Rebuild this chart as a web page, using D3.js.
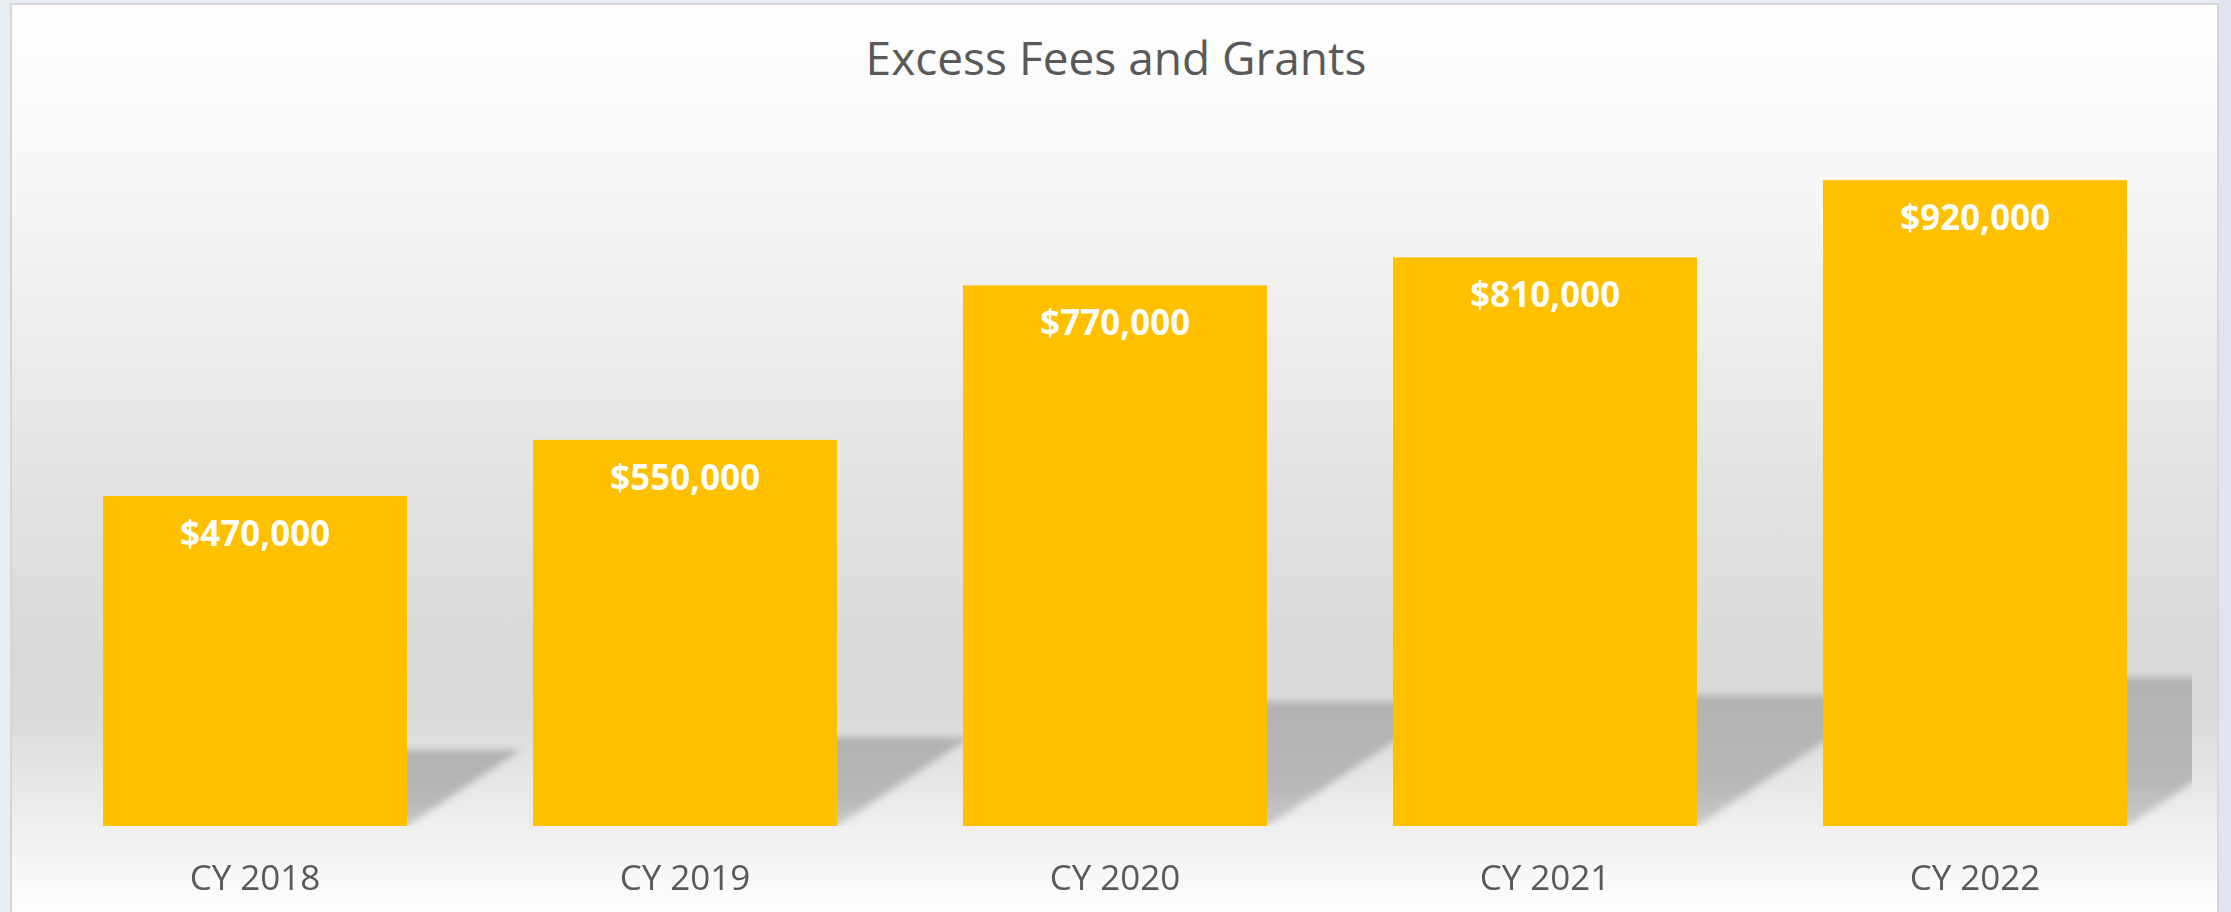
<!DOCTYPE html>
<html>
<head>
<meta charset="utf-8">
<script src="https://cdn.jsdelivr.net/npm/d3@7"></script>
<style>
  html, body { margin: 0; padding: 0; background: #e8ecf3; }
  svg { display: block; }
  .chart-title { font-family: "Open Sans", sans-serif; font-size: 46px; fill: #595959; }
  .bar-label { font-family: "Open Sans", sans-serif; font-size: 35px; font-weight: bold; fill: #ffffff; }
  .cat-label { font-family: "Open Sans", sans-serif; font-size: 35px; fill: #595959; }
</style>
</head>
<body>
<svg id="chart"></svg>
<script>
/*
BAR CHART: EXCESS FEES AND GRANTS
*/

const title = "Excess Fees and Grants";
const categories = ["CY 2018", "CY 2019", "CY 2020", "CY 2021", "CY 2022"];
const values = [470000, 550000, 770000, 810000, 920000];
const yDomain = [0, 1000000];

const width = 2231;
const height = 912;
const barColor = "#ffc000";

const svg = d3.select("#chart").attr("width", width).attr("height", height);
const defs = svg.append("defs");

// background gradient of the chart panel
const bg = defs
  .append("linearGradient")
  .attr("id", "panel-bg")
  .attr("gradientUnits", "userSpaceOnUse")
  .attr("x1", 0).attr("y1", 4)
  .attr("x2", 0).attr("y2", 912);
[
  [0, "#ffffff"],
  [0.19, "#f7f7f7"],
  [0.38, "#ececec"],
  [0.57, "#e0e0e0"],
  [0.72, "#d9d9d9"],
  [0.79, "#dbdbdb"],
  [0.905, "#efefef"],
  [1, "#fefefe"],
].forEach(([o, c]) => bg.append("stop").attr("offset", o).attr("stop-color", c));

// shadow fill and blur
const sg = defs
  .append("linearGradient")
  .attr("id", "shadow-fill")
  .attr("x1", 0).attr("y1", 0)
  .attr("x2", 0).attr("y2", 1);
sg.append("stop").attr("offset", 0).attr("stop-color", "#b1b1b1");
sg.append("stop").attr("offset", 0.7).attr("stop-color", "#b8b8b8");
sg.append("stop").attr("offset", 1).attr("stop-color", "#cacaca");

defs
  .append("filter")
  .attr("id", "shadow-blur")
  .attr("x", "-20%").attr("y", "-20%")
  .attr("width", "140%").attr("height", "140%")
  .append("feGaussianBlur")
  .attr("stdDeviation", 3.5);

// outer strip on the right
svg.append("rect")
  .attr("x", 2219).attr("y", 0)
  .attr("width", width - 2219).attr("height", height)
  .attr("fill", "#e1e4f0");

// chart panel
svg.append("rect")
  .attr("x", 11).attr("y", 4)
  .attr("width", 2207).attr("height", height + 10)
  .attr("fill", "url(#panel-bg)")
  .attr("stroke", "#d6d6d6")
  .attr("stroke-width", 2);

// scales
const x = d3.scaleBand()
  .domain(categories)
  .range([40, 2190])
  .paddingInner(0.293)
  .paddingOuter(0.1465);

const y = d3.scaleLinear().domain(yDomain).range([826, 124]);
const base = y(0);

defs.append("clipPath")
  .attr("id", "plot-clip")
  .append("rect")
  .attr("x", 40).attr("y", 0)
  .attr("width", 2152).attr("height", base);

// perspective shadows: bars skewed back onto the floor
svg.append("g")
  .attr("clip-path", "url(#plot-clip)")
  .append("g")
  .attr("filter", "url(#shadow-blur)")
  .selectAll("rect")
  .data(values)
  .enter()
  .append("rect")
  .attr("x", (d, i) => x(categories[i]))
  .attr("y", (d) => y(d) - base)
  .attr("width", x.bandwidth())
  .attr("height", (d) => base - y(d))
  .attr("fill", "url(#shadow-fill)")
  .attr("transform", `translate(0,${base}) matrix(1,0,-0.345,0.23,0,0)`);

// bars
svg.append("g")
  .selectAll("rect")
  .data(values)
  .enter()
  .append("rect")
  .attr("x", (d, i) => x(categories[i]))
  .attr("y", (d) => y(d))
  .attr("width", x.bandwidth())
  .attr("height", (d) => base - y(d))
  .attr("fill", barColor);

// value labels inside bar tops
const fmt = d3.format("$,");
svg.append("g")
  .selectAll("text")
  .data(values)
  .enter()
  .append("text")
  .attr("class", "bar-label")
  .attr("x", (d, i) => x(categories[i]) + x.bandwidth() / 2)
  .attr("y", (d) => y(d) + 50)
  .attr("text-anchor", "middle")
  .text((d) => fmt(d));

// category axis (labels only)
const axis = svg.append("g")
  .attr("transform", `translate(0,${base})`)
  .call(d3.axisBottom(x).tickSize(0).tickPadding(0));
axis.select(".domain").remove();
axis.selectAll("text")
  .attr("class", "cat-label")
  .attr("dy", null)
  .attr("y", 64)
  .attr("font-family", null)
  .attr("font-size", null)
  .attr("fill", null);
axis.attr("font-family", null).attr("font-size", null);

// title
svg.append("text")
  .attr("class", "chart-title")
  .attr("x", 1116)
  .attr("y", 75)
  .attr("text-anchor", "middle")
  .text(title);
</script>
</body>
</html>
